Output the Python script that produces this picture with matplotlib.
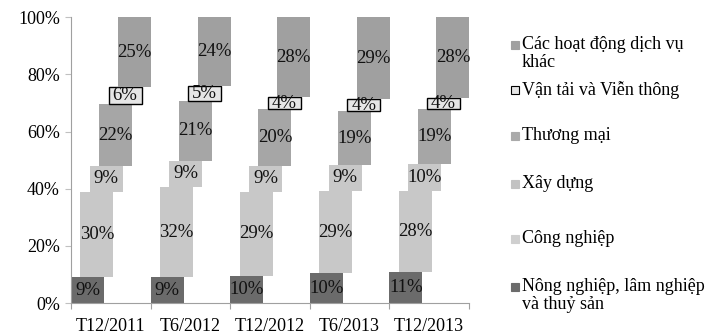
import matplotlib.pyplot as plt
from matplotlib.patches import Rectangle
import numpy as np

plt.rcParams['font.family'] = ['Liberation Serif', 'DejaVu Serif']

periods = ['T12/2011', 'T6/2012', 'T12/2012', 'T6/2013', 'T12/2013']
sectors = ['Nông nghiệp, lâm nghiệp\nvà thuỷ sản', 'Công nghiệp', 'Xây dựng',
           'Thương mại', 'Vận tải và Viễn thông', 'Các hoạt động dịch vụ\nkhác']

nong_nghiep = [9.0, 9.0, 9.6, 10.4, 10.8]
cong_nghiep = [30.0, 31.6, 29.3, 28.8, 28.4]
xay_dung = [8.9, 9.2, 9.1, 9.1, 9.6]
thuong_mai = [21.7, 21.0, 19.7, 18.8, 19.0]
van_tai = [5.8, 5.2, 4.4, 4.1, 4.0]
dich_vu_khac = [24.6, 24.0, 27.9, 28.8, 28.2]

series = [nong_nghiep, cong_nghiep, xay_dung, thuong_mai, van_tai, dich_vu_khac]
colors = ['#6b6b6b', '#c8c8c8', '#c8c8c8', '#a6a6a6', '#e6e6e6', '#a0a0a0']
legend_colors = ['#6b6b6b', '#cfcfcf', '#c2c2c2', '#aaaaaa', '#e6e6e6', '#a0a0a0']
edges = [None, None, None, None, 'black', None]

fig = plt.figure(figsize=(7.11, 3.36), dpi=100)
ax = fig.add_axes([0.0999, 0.098, 0.5598, 0.851])

width = 0.415
step = 0.118
x = np.arange(len(periods))
bottom = np.zeros(len(periods))
for i, vals in enumerate(series):
    vals = np.array(vals)
    centers = x - 0.5 + width / 2 + step * i
    ec = edges[i] if edges[i] else 'none'
    ax.bar(centers, vals, width=width, bottom=bottom, color=colors[i],
           edgecolor=ec, linewidth=1.0 if edges[i] else 0, zorder=2)
    for cx, b, v in zip(centers, bottom, vals):
        ax.text(cx, b + v / 2, f'{v:.0f}%', ha='center', va='center',
                fontsize=13.5, color='#111111', zorder=3)
    bottom = bottom + vals

ax.set_xlim(-0.5, len(periods) - 0.5)
ax.set_ylim(0, 100)
ax.set_yticks(np.arange(0, 101, 20))
ax.set_yticklabels([f'{v}%' for v in range(0, 101, 20)], fontsize=13)
ax.set_xticks(np.arange(-0.5, len(periods)), minor=False)
ax.set_xticklabels([])
ax.set_xticks(x, minor=True)
ax.set_xticklabels(periods, minor=True, fontsize=13)
ax.tick_params(axis='x', which='major', length=4, color='#a0a0a0', direction='out')
ax.tick_params(axis='x', which='minor', length=0, pad=11)
ax.tick_params(axis='y', length=4, color='#c0c0c0', pad=4)
for s in ['top', 'right']:
    ax.spines[s].set_visible(False)
for s in ['left', 'bottom']:
    ax.spines[s].set_color('#a0a0a0')

# legend drawn manually (top to bottom)
leg_y = [45, 90, 136, 184, 239, 287]
order = [5, 4, 3, 2, 1, 0]
H, W = 336, 711
for yy, k in zip(leg_y, order):
    ec = 'black' if edges[k] else legend_colors[k]
    fig.patches.append(Rectangle((511 / W, 1 - (yy + 4) / H), 8 / W, 8 / H,
                                 transform=fig.transFigure, facecolor=legend_colors[k],
                                 edgecolor=ec, linewidth=0.8))
    fig.text(522 / W, 1 - (yy - 9) / H, sectors[k], fontsize=13, va='top', ha='left',
             linespacing=1.1)

fig.savefig('out.png', dpi=100)
